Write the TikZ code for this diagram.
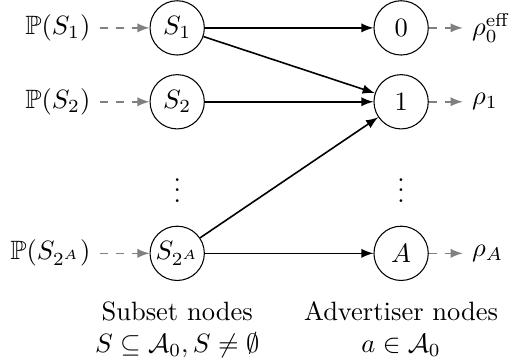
\documentclass[tikz,border=0pt]{standalone}
\usepackage{amsmath,amssymb}
\usetikzlibrary{positioning}
\tikzset{>=latex}
\tikzstyle{vertex} = [draw, circle, minimum size=0.72cm, inner sep=0pt]
\tikzstyle{edge} = [->, semithick]
\tikzstyle{feed} = [->, semithick, dashed, black!50]

\begin{document}
\begin{tikzpicture}
		\useasboundingbox (0,0) rectangle (6.91,4.80);
		
		% Subset nodes
		\node[vertex] (s1) at (2.35,4.43) {$S_1$};
		\node[vertex] (s2) at (2.35,3.45) {$S_2$};
		\node (sdots) at (2.35,2.38) {$\vdots$};
		\node[vertex] (sn) at (2.35,1.44) {$S_{2^A}$};
		
		% Advertiser nodes
		\node[vertex] (a0) at (5.32,4.43) {$0$};
		\node[vertex] (a1) at (5.32,3.45) {$1$};
		\node (adots) at (5.32,2.38) {$\vdots$};
		\node[vertex] (an) at (5.32,1.44) {$A$};
		
		% Probabilities and rates
		\node[left=0.66cm of s1] (p1) {$\mathbb{P}(S_1)$};
		\node[left=0.66cm of s2] (p2) {$\mathbb{P}(S_2)$};
		\node[left=0.66cm of sn] (pn) {$\mathbb{P}(S_{2^A})$};
		\node[right=0.45cm of a0] (r0) {$\rho_0^{\mathrm{eff}}$};
		\node[right=0.45cm of a1] (r1) {$\rho_1$};
		\node[right=0.45cm of an] (rn) {$\rho_A$};
		
		% Captions
		\node[below=0.15cm of sn, align=center] (scap) {Subset nodes\\$S \subseteq \mathcal{A}_0, S \neq \emptyset$};
		\node[below=0.15cm of an, align=center] (acap) {Advertiser nodes\\$a \in \mathcal{A}_0$};
		
		% Edges
		\draw[edge] (s1) -- (a0);
		\draw[edge] (s1) -- (a1);
		\draw[edge] (s2) -- (a1);
		\draw[edge] (sn) -- (a1);
		\draw[edge] (sn) -- (an);
		
		% Dashed in/out
		\draw[feed] (p1) -- (s1);
		\draw[feed] (p2) -- (s2);
		\draw[feed] (pn) -- (sn);
		\draw[feed] (a0) -- (r0);
		\draw[feed] (a1) -- (r1);
		\draw[feed] (an) -- (rn);
	\end{tikzpicture}
\end{document}
